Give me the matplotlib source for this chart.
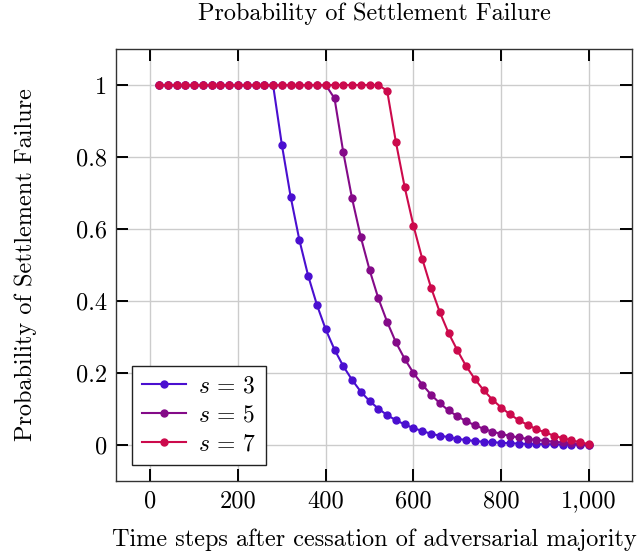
"""Probability of settlement failure vs. time after the adversarial majority ends."""

import numpy as np

import matplotlib
matplotlib.use("Agg")
import matplotlib.pyplot as plt
from matplotlib.ticker import FuncFormatter

plt.rcParams["font.family"] = "serif"
plt.rcParams["font.serif"] = ["cmr10"]
plt.rcParams["mathtext.fontset"] = "cm"
plt.rcParams["axes.formatter.use_mathtext"] = True

steps = np.arange(20, 1001, 20)

# values; flat at 1 until the drop starts
fail_s3 = [1.0] * 14 + [
    0.834, 0.690, 0.569, 0.470, 0.389, 0.321, 0.265, 0.219, 0.181, 0.148,
    0.122, 0.101, 0.083, 0.069, 0.057, 0.047, 0.039, 0.031, 0.026, 0.022,
    0.017, 0.014, 0.011, 0.009, 0.008, 0.006, 0.005, 0.004, 0.003, 0.003,
    0.002, 0.002, 0.001, 0.001, 0.001, 0.000]
fail_s5 = [1.0] * 20 + [
    0.963, 0.813, 0.685, 0.577, 0.486, 0.407, 0.342, 0.285, 0.239, 0.200,
    0.168, 0.140, 0.116, 0.096, 0.080, 0.066, 0.055, 0.045, 0.037, 0.031,
    0.025, 0.021, 0.017, 0.014, 0.012, 0.009, 0.007, 0.005, 0.003, 0.001]
fail_s7 = [1.0] * 26 + [
    0.984, 0.841, 0.716, 0.609, 0.517, 0.437, 0.369, 0.311, 0.263, 0.219,
    0.183, 0.152, 0.126, 0.104, 0.085, 0.069, 0.056, 0.044, 0.035, 0.026,
    0.019, 0.013, 0.008, 0.002]

series = [(r"$s\,=\,3$", fail_s3, "#4a0fd0"),
          (r"$s\,=\,5$", fail_s5, "#840a88"),
          (r"$s\,=\,7$", fail_s7, "#cc0a4c")]

fig = plt.figure(figsize=(6.42, 5.52), dpi=100)
ax = fig.add_axes([0.1807, 0.1286, 0.8037, 0.7826])

for label, ys, col in series:
    ax.plot(steps, ys, color=col, lw=1.5, marker="o", ms=5, label=label)

ax.set_xlim(-78, 1098)
ax.set_ylim(-0.1, 1.1)
ax.set_xticks([0, 200, 400, 600, 800, 1000])
ax.set_yticks([0, 0.2, 0.4, 0.6, 0.8, 1.0])
ax.xaxis.set_major_formatter(FuncFormatter(lambda v, _: f"{int(v):,}"))
ax.yaxis.set_major_formatter(FuncFormatter(lambda v, _: f"{v:g}"))
ax.tick_params(direction="in", length=8.3, width=1.4, top=True, right=True,
               labelsize=17.5, pad=6.5)
ax.grid(True, color="#cccccc", lw=1.0)
ax.set_axisbelow(True)
for sp in ax.spines.values():
    sp.set_linewidth(1.0)
    sp.set_color("#333333")

ax.set_title("Probability of Settlement Failure", fontsize=17.5, pad=21)
ax.set_xlabel("Time steps after cessation of adversarial majority",
              fontsize=17.5, labelpad=12)
ax.set_ylabel("Probability of Settlement Failure", fontsize=17.5, labelpad=28)

leg = ax.legend(loc="lower left", fontsize=17, fancybox=False, framealpha=1,
                edgecolor="#222222", borderaxespad=0.68, handlelength=1.9,
                handletextpad=0.5, labelspacing=0.3, borderpad=0.4)
leg.get_frame().set_linewidth(1.0)

fig.savefig("out.png", dpi=100)
